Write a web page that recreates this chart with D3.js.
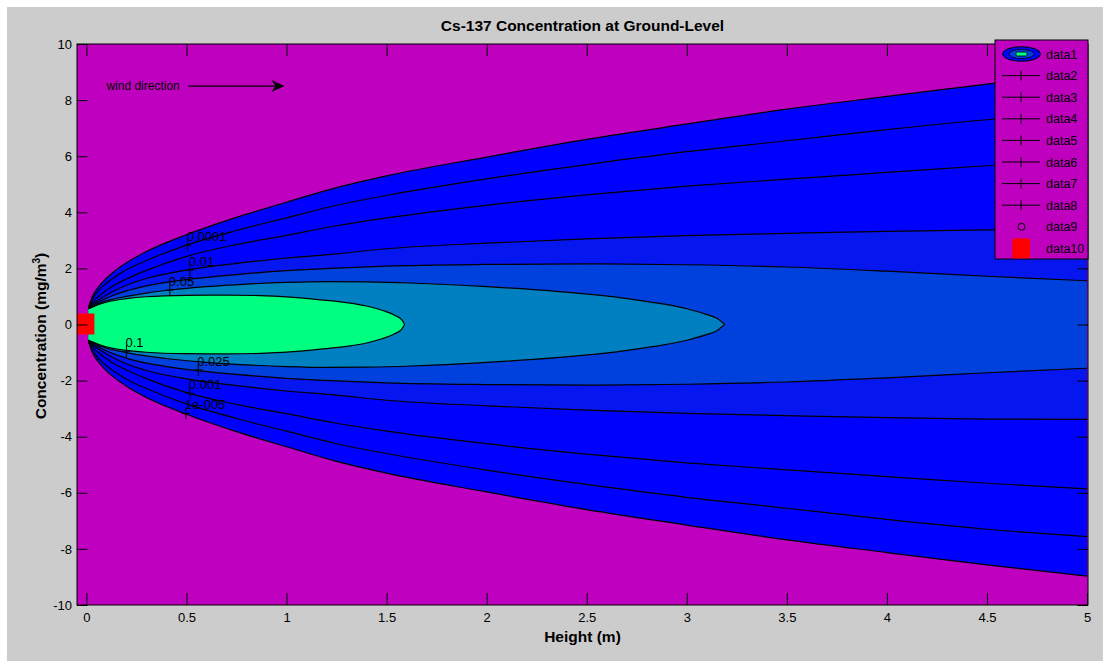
<!DOCTYPE html>
<html><head><meta charset="utf-8">
<script src="https://cdn.jsdelivr.net/npm/d3@7"></script>
<style>
body{margin:0;background:#fff}
text{font-family:"Liberation Sans",Arial,Helvetica,sans-serif}
</style>
</head><body>
<svg id="chart" width="1109" height="666"></svg>
<script>
// ---------------- DATA ----------------
const title = "Cs-137 Concentration at Ground-Level";
const xLabel = "Height (m)";
const yLabel = "Concentration (mg/m";
const xTicks = [0, 0.5, 1, 1.5, 2, 2.5, 3, 3.5, 4, 4.5, 5];
const yTicks = [-10, -8, -6, -4, -2, 0, 2, 4, 6, 8, 10];
const levels = ["1e-005", "0.0001", "0.001", "0.01", "0.025", "0.05", "0.1"];
const bandColors = ["#0000FF", "#0000FF", "#0000FD", "#0616EE", "#0040DC", "#0080C0", "#00FF80"];
const belowColor = "#BF00BF";

// half-width of each contour (symmetric about y = 0): [distance, half-width]
const w_1e5 = [[0.01,0.6],[0.03,1.0],[0.07,1.42],[0.12,1.78],[0.2,2.2],[0.3,2.6],[0.5,3.2],[0.75,3.82],[1.0,4.36],[1.25,4.88],[1.5,5.3],[2,5.97],[2.5,6.6],[3,7.15],[3.5,7.68],[4,8.13],[4.5,8.57],[5,8.97]];
const w_1e4 = [[0.01,0.6],[0.03,0.92],[0.07,1.28],[0.12,1.58],[0.2,1.95],[0.3,2.28],[0.5,2.83],[0.75,3.35],[1.0,3.8],[1.25,4.25],[1.5,4.6],[2,5.19],[2.5,5.7],[3,6.16],[3.5,6.55],[4,6.95],[4.5,7.3],[5,7.56]];
const w_1e3 = [[0.01,0.6],[0.03,0.8],[0.07,1.06],[0.12,1.32],[0.2,1.62],[0.3,1.93],[0.5,2.43],[0.75,2.85],[1.0,3.18],[1.25,3.52],[1.5,3.8],[2,4.25],[2.5,4.62],[3,4.93],[3.5,5.18],[4,5.42],[4.5,5.66],[5,5.86]];
const w_1e2 = [[0.01,0.6],[0.03,0.72],[0.07,0.92],[0.12,1.13],[0.2,1.4],[0.3,1.64],[0.5,1.94],[0.75,2.18],[1.0,2.37],[1.25,2.52],[1.5,2.7],[2,2.9],[2.5,3.05],[3,3.17],[3.5,3.25],[4,3.32],[4.5,3.37],[5,3.38]];
const w_025 = [[0.01,0.6],[0.03,0.68],[0.07,0.84],[0.12,1.0],[0.2,1.2],[0.3,1.38],[0.5,1.6],[0.75,1.78],[1.0,1.92],[1.25,2.01],[1.5,2.08],[2,2.14],[2.5,2.16],[3,2.13],[3.5,2.05],[4,1.9],[4.5,1.72],[5,1.56]];
const w_05 = [[0.01,0.58],[0.03,0.64],[0.07,0.77],[0.12,0.88],[0.2,1.0],[0.3,1.12],[0.42,1.23],[0.6,1.35],[0.8,1.44],[1.0,1.5],[1.2,1.53],[1.4,1.52],[1.62,1.48],[2.0,1.35],[2.35,1.18],[2.57,1.04],[2.82,0.8],[3.0,0.56],[3.09,0.38],[3.15,0.22],[3.19,0]];
const w_1 = [[0.01,0.55],[0.03,0.62],[0.07,0.73],[0.12,0.83],[0.2,0.92],[0.3,0.99],[0.5,1.04],[0.7,1.05],[0.9,1.02],[1.05,0.96],[1.17,0.88],[1.3,0.78],[1.4,0.66],[1.48,0.5],[1.54,0.33],[1.575,0.17],[1.59,0]];
const contours = [w_1e5, w_1e4, w_1e3, w_1e2, w_025, w_05, w_1];

// contour labels: text, distance, y of the "+" mark
const labelText = ["0.0001", "0.01", "0.05", "0.1", "0.025", "0.001", "1e-005"];
const labelX = [0.506, 0.517, 0.417, 0.2, 0.559, 0.517, 0.497];
const labelY = [2.83, 1.94, 1.23, -0.95, -1.62, -2.45, -3.17];

const legendNames = ["data1","data2","data3","data4","data5","data6","data7","data8","data9","data10"];
const source = [0, 0];
const windText = "wind direction";
const windX = [0.1, 0.51, 0.99];
const windY = 8.5;

// ---------------- LAYOUT ----------------
const svg = d3.select("#chart");
const L = 77, R = 1088, T = 44, B = 605;
const x = d3.scaleLinear().domain([-0.047, 5.005]).range([L, R]);
const y = d3.scaleLinear().domain([-10, 10]).range([B, T]);

// figure background
svg.append("rect").attr("x", 7).attr("y", 7).attr("width", 1096).attr("height", 654).attr("fill", "#CCCCCC");

// clip
svg.append("defs").append("clipPath").attr("id", "clip")
  .append("rect").attr("x", L).attr("y", T).attr("width", R - L).attr("height", B - T);

const plot = svg.append("g").attr("clip-path", "url(#clip)");
plot.append("rect").attr("x", L).attr("y", T).attr("width", R - L).attr("height", B - T).attr("fill", belowColor);

const area = d3.area().x(d => x(d[0])).y0(d => y(-d[1])).y1(d => y(d[1])).curve(d3.curveMonotoneX);
const line = d3.line().x(d => x(d[0])).y(d => y(d[1])).curve(d3.curveMonotoneX);

contours.forEach((c, i) => {
  plot.append("path").attr("d", area(c)).attr("fill", bandColors[i]).attr("stroke", "none");
});
contours.forEach((c, i) => {
  plot.append("path").attr("d", line(c)).attr("fill", "none").attr("stroke", "#000").attr("stroke-width", 1.2);
  plot.append("path").attr("d", line(c.map(d => [d[0], -d[1]]))).attr("fill", "none").attr("stroke", "#000").attr("stroke-width", 1.2);
});

// contour labels
labelText.forEach((t, i) => {
  const px = x(labelX[i]), py = y(labelY[i]);
  plot.append("path").attr("d", `M${px - 4},${py}H${px + 4}M${px},${py - 6}V${py + 6}`)
    .attr("stroke", "#000").attr("stroke-width", 1);
  plot.append("text").attr("x", px - 1).attr("y", py - 4).attr("font-size", 13).attr("fill", "#000").text(t);
});

// wind direction annotation
plot.append("text").attr("x", x(windX[0])).attr("y", y(windY)).attr("dy", "0.35em")
  .attr("font-size", 12).attr("fill", "#000").text(windText);
plot.append("line").attr("x1", x(windX[1])).attr("x2", x(windX[2]) - 6).attr("y1", y(windY)).attr("y2", y(windY))
  .attr("stroke", "#000").attr("stroke-width", 1.2);
{
  const tx = x(windX[2]), ty = y(windY);
  plot.append("path").attr("d", `M${tx},${ty}L${tx - 13},${ty - 6}L${tx - 9},${ty}L${tx - 13},${ty + 6}Z`).attr("fill", "#000");
}

// source marker
svg.append("rect").attr("x", x(source[0]) - 9).attr("y", y(source[1]) - 11).attr("width", 17).attr("height", 21).attr("fill", "#FF0000");

// axes
const fmt = d => String(d);
const gx = svg.append("g").attr("transform", `translate(0,${B})`)
  .call(d3.axisBottom(x).tickValues(xTicks).tickFormat(fmt).tickSizeInner(-12).tickSizeOuter(0).tickPadding(8));
const gxt = svg.append("g").attr("transform", `translate(0,${T})`)
  .call(d3.axisTop(x).tickValues(xTicks).tickFormat("").tickSizeInner(-12).tickSizeOuter(0));
const gy = svg.append("g").attr("transform", `translate(${L},0)`)
  .call(d3.axisLeft(y).tickValues(yTicks).tickFormat(fmt).tickSizeInner(-10.5).tickSizeOuter(0).tickPadding(5));
const gyr = svg.append("g").attr("transform", `translate(${R},0)`)
  .call(d3.axisRight(y).tickValues(yTicks).tickFormat("").tickSizeInner(-10.5).tickSizeOuter(0));
[gx, gxt, gy, gyr].forEach(g => {
  g.select(".domain").remove();
  g.selectAll("line").attr("stroke", "#000");
  g.selectAll("text").attr("fill", "#000").attr("font-size", 13).attr("font-family", '"Liberation Sans",Arial,sans-serif');
});
svg.append("rect").attr("x", L).attr("y", T).attr("width", R - L).attr("height", B - T)
  .attr("fill", "none").attr("stroke", "#000").attr("stroke-width", 1);

// titles
svg.append("text").attr("x", (L + R) / 2).attr("y", 31).attr("text-anchor", "middle")
  .attr("font-size", 15.5).attr("font-weight", "bold").attr("fill", "#000").text(title);
svg.append("text").attr("x", (L + R) / 2).attr("y", 642).attr("text-anchor", "middle")
  .attr("font-size", 15.5).attr("font-weight", "bold").attr("fill", "#000").text(xLabel);
const yl = svg.append("text").attr("transform", `translate(46,336) rotate(-90)`).attr("text-anchor", "middle")
  .attr("font-size", 15.5).attr("font-weight", "bold").attr("fill", "#000");
yl.append("tspan").text(yLabel);
yl.append("tspan").attr("dy", -6).attr("font-size", 10).text("3");
yl.append("tspan").attr("dy", 6).text(")");

// legend
const lg = svg.append("g");
lg.append("rect").attr("x", 995).attr("y", 40).attr("width", 93).attr("height", 219)
  .attr("fill", belowColor).attr("stroke", "#000").attr("stroke-width", 1);
legendNames.forEach((n, i) => {
  const cy = 54 + i * 21.6;
  lg.append("text").attr("x", 1046).attr("y", cy + 4.5).attr("font-size", 12.5).attr("fill", "#000").text(n);
  if (i === 0) {
    lg.append("ellipse").attr("cx", 1021.5).attr("cy", cy).attr("rx", 19).attr("ry", 7.3).attr("fill", bandColors[0]).attr("stroke", "#000");
    lg.append("ellipse").attr("cx", 1021.5).attr("cy", cy).attr("rx", 12.5).attr("ry", 4.6).attr("fill", bandColors[4]).attr("stroke", "#000").attr("stroke-width", 0.8);
    lg.append("rect").attr("x", 1016).attr("y", cy - 2).attr("width", 11).attr("height", 4).attr("rx", 1.5).attr("fill", bandColors[6]).attr("stroke", "#000").attr("stroke-width", 0.8);
  } else if (i < 8) {
    lg.append("path").attr("d", `M1002,${cy}H1040M1021,${cy - 5}V${cy + 5}`).attr("stroke", "#000").attr("stroke-width", 1);
  } else if (i === 8) {
    lg.append("circle").attr("cx", 1021.5).attr("cy", cy).attr("r", 3.5).attr("fill", "none").attr("stroke", "#000");
  } else {
    lg.append("rect").attr("x", 1012.5).attr("y", cy - 10).attr("width", 17.5).attr("height", 20).attr("fill", "#FF0000");
  }
});
</script>
</body></html>
